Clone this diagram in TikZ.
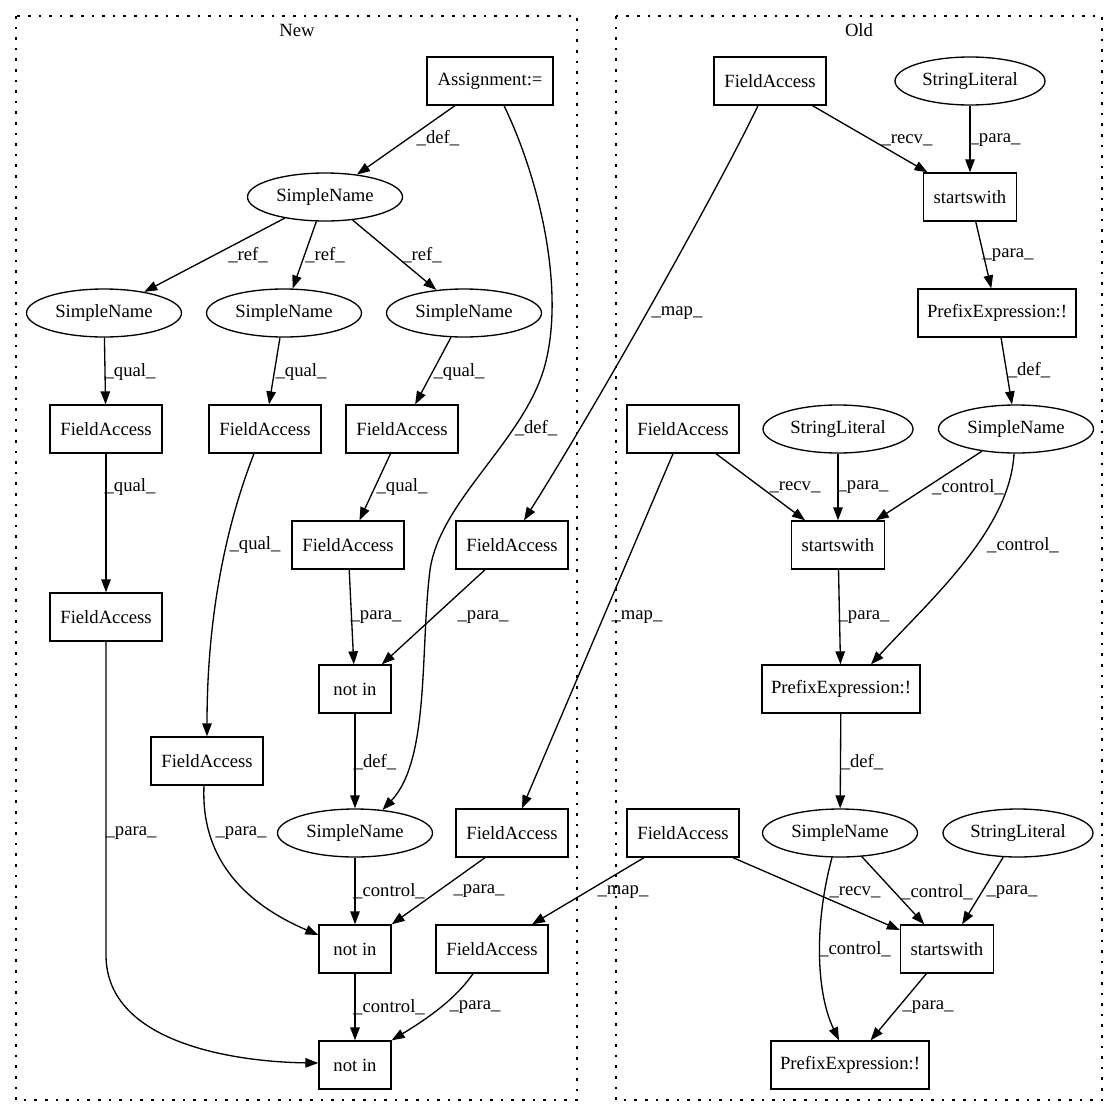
\documentclass[tikz,border=0pt]{standalone}
\usepackage{fontspec}
\setmainfont{Liberation Serif}
\usetikzlibrary{arrows.meta,shapes.geometric}
\begin{document}
\begin{tikzpicture}[x=1bp,y=-1bp,
  every node/.style={font=\fontsize{18.67bp}{22bp}\selectfont},
  box/.style={draw,line width=1.33bp,rectangle,minimum height=48bp,inner sep=0pt},
  ell/.style={draw,line width=1.33bp,ellipse,minimum height=48bp,inner sep=0pt},
  fa/.style={box,minimum width=112bp},
  notin/.style={box,minimum width=72bp},
  sw/.style={box,minimum width=93bp},
  pe/.style={box,minimum width=158bp},
  sn/.style={ell,minimum width=155bp},
  sl/.style={ell,minimum width=150bp},
  edge/.style={line width=1.33bp,-{Triangle[length=13bp,width=9.5bp]}},
  lbl/.style={inner sep=0pt},
  cluster/.style={line width=1.6bp,dash pattern=on 2.6bp off 8bp}
]
\useasboundingbox[fill=white] (0,0) rectangle (1116,1116);

% clusters
\draw[cluster] (16,16) rectangle (577,1100);
\draw[cluster] (616,16) rectangle (1102,1100);
\node[lbl] (tnew) at (297,30) {New};
\node[lbl] (told) at (859,30) {Old};

% New nodes
\node[box,minimum width=126bp] (asg) at (490,81) {Assignment:=};
\node[sn] (sn0) at (325,197) {SimpleName};
\node[sn] (sn1) at (104,313) {SimpleName};
\node[sn] (sn2) at (284,313) {SimpleName};
\node[sn] (sn3) at (464,313) {SimpleName};
\node[fa] (fa1) at (106,429) {FieldAccess};
\node[fa] (fa2) at (265,429) {FieldAccess};
\node[fa] (fa3) at (402,429) {FieldAccess};
\node[fa] (fa4) at (348,545) {FieldAccess};
\node[fa] (fa5) at (512,545) {FieldAccess};
\node[fa] (fa6) at (106,617) {FieldAccess};
\node[notin] (ni1) at (355,689) {not in};
\node[fa] (fa7) at (207,761) {FieldAccess};
\node[sn] (sn4) at (355,833) {SimpleName};
\node[fa] (fa8) at (512,833) {FieldAccess};
\node[notin] (ni2) at (355,949) {not in};
\node[fa] (fa9) at (492,949) {FieldAccess};
\node[notin] (ni3) at (355,1065) {not in};

% Old nodes
\node[fa] (ofa1) at (770,81) {FieldAccess};
\node[sl] (osl1) at (970,81) {StringLiteral};
\node[sw] (osw1) at (970,197) {startswith};
\node[pe] (ope1) at (997,313) {PrefixExpression:!};
\node[fa] (ofa2) at (683,429) {FieldAccess};
\node[sl] (osl2) at (838,429) {StringLiteral};
\node[sn] (osn1) at (1016,429) {SimpleName};
\node[sw] (osw2) at (838,545) {startswith};
\node[pe] (ope2) at (841,689) {PrefixExpression:!};
\node[fa] (ofa3) at (683,833) {FieldAccess};
\node[sn] (osn2) at (840,833) {SimpleName};
\node[sl] (osl3) at (1018,833) {StringLiteral};
\node[sw] (osw3) at (947,949) {startswith};
\node[pe] (ope3) at (850,1065) {PrefixExpression:!};

% New edges
\draw[edge] (asg) -- (sn0);
\draw[edge] ([xshift=14bp]asg.south) .. controls (540,180) and (565,290) .. (545,365)
  .. controls (525,440) and (440,500) .. (430,570)
  .. controls (420,650) and (430,760) .. (sn4.40);
\draw[edge] (sn0) -- (sn1);
\draw[edge] (sn0) -- (sn2);
\draw[edge] (sn0) -- (sn3);
\draw[edge] (sn1) -- (fa1);
\draw[edge] (sn2) -- (fa2);
\draw[edge] (sn3) -- (fa3);
\draw[edge] (fa1) -- (fa6);
\draw[edge] ([xshift=-11bp]fa2.south) .. controls (232,510) and (207,600) .. (fa7.north);
\draw[edge] (fa3) -- (fa4);
\draw[edge] (fa4) -- (ni1);
\draw[edge] (fa5) -- (ni1);
\draw[edge] (ni1) -- (sn4);
\draw[edge] ([xshift=-3bp]fa7.south) .. controls (200,870) and (260,910) .. ([yshift=14bp]ni2.west);
\draw[edge] (sn4) -- (ni2);
\draw[edge] ([xshift=-27bp]fa8.south) -- (ni2.north east);
\draw[edge] (fa6.south) -- (106,955) .. controls (106,1045) and (240,1062) .. ([yshift=2bp]ni3.west);
\draw[edge] (ni2) -- (ni3);
\draw[edge] ([xshift=-19bp]fa9.south) .. controls (455,1000) and (425,1020) .. (ni3.north east);

% Old edges
\draw[edge] (ofa1) -- (osw1);
\draw[edge] (osl1) -- (osw1);
\draw[edge] (osw1) -- (ope1);
\draw[edge] (ope1) -- (osn1);
\draw[edge] ([xshift=-12bp]ofa1.south) .. controls (720,185) and (600,400) .. ([xshift=12bp]fa5.north);
\draw[edge] (ofa2) -- (osw2);
\draw[edge] (osl2) -- (osw2);
\draw[edge] (osn1) -- (osw2);
\draw[edge] ([xshift=-2bp]osn1.south) .. controls (1010,530) and (930,600) .. ([xshift=30bp]ope2.north);
\draw[edge] (osw2) -- (ope2);
\draw[edge] ([xshift=-10bp]ofa2.south) -- ([xshift=10bp]fa8.north);
\draw[edge] (ope2) -- (osn2);
\draw[edge] ([xshift=-39bp]ofa3.south) -- ([xshift=40bp]fa9.north);
\draw[edge] ([xshift=50bp]ofa3.south) -- ([yshift=19bp]osw3.west);
\draw[edge] (osn2) -- (osw3);
\draw[edge] (osl3) -- (osw3);
\draw[edge] ([xshift=-8bp]osn2.south) .. controls (815,920) and (815,990) .. ([xshift=-11bp]ope3.north);
\draw[edge] (osw3) -- (ope3);

% edge labels
\node[lbl] (l1) at (438,138) {\_def\_};
\node[lbl] (l2) at (536,428) {\_def\_};
\node[lbl] (l3) at (248,255) {\_ref\_};
\node[lbl] (l4) at (325,255) {\_ref\_};
\node[lbl] (l5) at (422,255) {\_ref\_};
\node[lbl] (l6) at (130,372) {\_qual\_};
\node[lbl] (l7) at (301,372) {\_qual\_};
\node[lbl] (l8) at (459,372) {\_qual\_};
\node[lbl] (l9) at (130,487) {\_qual\_};
\node[lbl] (l10) at (255,545) {\_qual\_};
\node[lbl] (l11) at (402,487) {\_qual\_};
\node[lbl] (l12) at (376,617) {\_para\_};
\node[lbl] (l13) at (483,617) {\_para\_};
\node[lbl] (l14) at (375,762) {\_def\_};
\node[lbl] (l15) at (131,833) {\_para\_};
\node[lbl] (l16) at (241,833) {\_para\_};
\node[lbl] (l17) at (389,891) {\_control\_};
\node[lbl] (l18) at (479,891) {\_para\_};
\node[lbl] (l19) at (389,1007) {\_control\_};
\node[lbl] (l20) at (475,1007) {\_para\_};

\node[lbl] (m1) at (907,140) {\_recv\_};
\node[lbl] (m2) at (995,140) {\_para\_};
\node[lbl] (m3) at (1008,255) {\_para\_};
\node[lbl] (m4) at (677,313) {\_map\_};
\node[lbl] (m5) at (1029,370) {\_def\_};
\node[lbl] (m6) at (795,487) {\_recv\_};
\node[lbl] (m7) at (863,487) {\_para\_};
\node[lbl] (m8) at (968,487) {\_control\_};
\node[lbl] (m9) at (1023,545) {\_control\_};
\node[lbl] (m10) at (864,617) {\_para\_};
\node[lbl] (m11) at (637,617) {\_map\_};
\node[lbl] (m12) at (862,762) {\_def\_};
\node[lbl] (m13) at (623,892) {\_map\_};
\node[lbl] (m14) at (855,892) {\_recv\_};
\node[lbl] (m15) at (937,892) {\_control\_};
\node[lbl] (m16) at (1012,892) {\_para\_};
\node[lbl] (m17) at (855,949) {\_control\_};
\node[lbl] (m18) at (928,1007) {\_para\_};
\end{tikzpicture}
\end{document}
